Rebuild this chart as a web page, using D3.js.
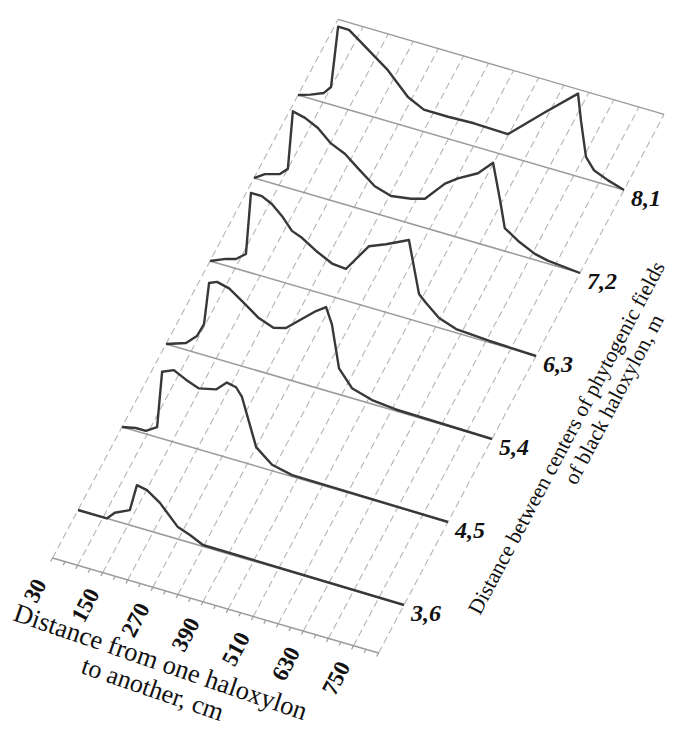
<!DOCTYPE html>
<html>
<head>
<meta charset="utf-8">
<script src="https://cdn.jsdelivr.net/npm/d3@7/dist/d3.min.js"></script>
<style>
  html, body { margin: 0; padding: 0; background: #fff; }
  svg { display: block; }
</style>
</head>
<body>
<div id="chart"></div>
<script>
// distance from one haloxylon to another, cm
const distTicks = [30, 150, 270, 390, 510, 630, 750];
const distGrid = [30, 90, 150, 210, 270, 330, 390, 450, 510, 570, 630, 690, 750, 810];

// distance between centers of phytogenic fields, m
const depths = [3.6, 4.5, 5.4, 6.3, 7.2, 8.1];
const depthLabels = ["3,6", "4,5", "5,4", "6,3", "7,2", "8,1"];

// [distance cm, value]
const s36 = [[30,0],[99,0],[118,8],[154,15],[171,42],[195,40],[226,31],[269,12],[298,7.6],[329,1.4],[810,0]];
const s45 = [[30,0],[63,3],[87,3],[114,10],[126,67],[154,72],[183,66],[214,61],[255,65],[281,75],[303,73],[317,65],[351,19],[389,6],[437,1.5],[810,0]];
const s54 = [[30,0],[78,6.8],[104,17],[121,31],[133,73.5],[152,77],[181,74],[212,65],[252,53],[288,47.5],[317,51],[355,64.6],[389,76.7],[413,83.6],[427,68],[444,26],[475,10],[523,4],[580,1.5],[810,0]];
const s63 = [[30,0],[68,6.7],[92,9.6],[116,17.5],[128,80],[154,80],[178,75],[202,66],[226,54],[250,50],[284,41],[322,33],[355,31.6],[410,61],[451,68],[506,79],[530,28],[547,21],[578,9.7],[619,3.7],[697,1.5],[810,0]];
const s72 = [[30,0],[56,7],[92,11.6],[111,19],[123,78],[152,75],[183,68.6],[214,57],[248,50.5],[279,40],[319,27],[358,22],[406,25],[439,29],[487,50],[518,59],[566,70],[602,85],[619,49],[630,23],[662,14],[702,6],[733,3],[810,0]];
const s81 = [[30,0],[60,4],[92,9.6],[109,17.6],[126,80],[152,80],[181,71],[245,51],[293,30],[331,22],[389,22],[451,23],[532,22],[619,54],[700,83],[707,57],[719,22],[738,11],[772,5],[810,0]];
const series = [s36, s45, s54, s63, s72, s81];

const width = 674, height = 729;
const serif = "Liberation Serif, Times New Roman, serif";

const svg = d3.select("#chart")
  .append("svg")
  .attr("width", width)
  .attr("height", height);

// oblique projection: x runs right-down, depth runs up-right, value straight up
const x = d3.scaleLinear().domain([30, 810]).range([0, 1]);
const y = d3.scaleLinear().domain([3.6, 8.1]).range([0, 1]);
const z = d3.scaleLinear().domain([0, 100]).range([0, 100]);
const origin = [78, 510], xVec = [326, 95], yVec = [220, -415];
const floorDepth = [3.08, 8.92];

function proj(c, d, v = 0) {
  const a = x(c), b = y(d);
  return [origin[0] + a * xVec[0] + b * yVec[0],
          origin[1] + a * xVec[1] + b * yVec[1] - z(v)];
}

const yLen = Math.hypot(yVec[0], yVec[1]);
const yUnit = [yVec[0] / yLen, yVec[1] / yLen];
const yAngle = Math.atan2(yVec[1], yVec[0]) * 180 / Math.PI;

// dashed floor grid
svg.append("g")
  .selectAll("line")
  .data(distGrid)
  .join("line")
  .attr("x1", d => proj(d, floorDepth[0])[0])
  .attr("y1", d => proj(d, floorDepth[0])[1])
  .attr("x2", d => proj(d, floorDepth[1])[0])
  .attr("y2", d => proj(d, floorDepth[1])[1])
  .attr("stroke", "#b4b4b4")
  .attr("stroke-width", 1.1)
  .attr("stroke-dasharray", "7,4");

// front and back edges
svg.append("g")
  .selectAll("line")
  .data(floorDepth)
  .join("line")
  .attr("x1", d => proj(30, d)[0])
  .attr("y1", d => proj(30, d)[1])
  .attr("x2", d => proj(810, d)[0])
  .attr("y2", d => proj(810, d)[1])
  .attr("stroke", "#9a9a9a")
  .attr("stroke-width", 1.4);

// small ticks on front edge
svg.append("g")
  .selectAll("line")
  .data(d3.range(30, 811, 30))
  .join("line")
  .attr("x1", d => proj(d, floorDepth[0])[0])
  .attr("y1", d => proj(d, floorDepth[0])[1])
  .attr("x2", d => proj(d, floorDepth[0])[0] - yUnit[0] * 4)
  .attr("y2", d => proj(d, floorDepth[0])[1] - yUnit[1] * 4)
  .attr("stroke", "#9a9a9a")
  .attr("stroke-width", 1.2);

// series baselines
svg.append("g")
  .selectAll("line")
  .data(depths)
  .join("line")
  .attr("x1", d => proj(30, d)[0])
  .attr("y1", d => proj(30, d)[1])
  .attr("x2", d => proj(810, d)[0])
  .attr("y2", d => proj(810, d)[1])
  .attr("stroke", "#9a9a9a")
  .attr("stroke-width", 1.5);

// curves
const line = d3.line();
svg.append("g")
  .selectAll("path")
  .data(series)
  .join("path")
  .attr("d", (s, i) => line(s.map(p => proj(p[0], depths[i], p[1]))))
  .attr("fill", "none")
  .attr("stroke", "#383838")
  .attr("stroke-width", 2.4)
  .attr("stroke-linejoin", "round");

// depth labels
svg.append("g")
  .selectAll("text")
  .data(depths)
  .join("text")
  .attr("x", d => proj(810, d)[0] + 7)
  .attr("y", d => proj(810, d)[1] + 16)
  .attr("font-family", serif)
  .attr("font-size", 24)
  .attr("font-weight", "bold")
  .attr("font-style", "italic")
  .attr("fill", "#111")
  .text((d, i) => depthLabels[i]);

// distance tick labels
svg.append("g")
  .selectAll("text")
  .data(distTicks)
  .join("text")
  .attr("transform", d => {
    const p = proj(d, floorDepth[0]);
    return `translate(${p[0] - yUnit[0] * 37},${p[1] - yUnit[1] * 37}) rotate(${yAngle})`;
  })
  .attr("text-anchor", "middle")
  .attr("dominant-baseline", "central")
  .attr("font-family", serif)
  .attr("font-size", 23)
  .attr("font-weight", "bold")
  .attr("fill", "#111")
  .text(d => d);

// x axis title
svg.append("text")
  .attr("transform", "translate(12,620) rotate(19)")
  .attr("font-family", serif)
  .attr("font-size", 26.5)
  .attr("fill", "#111")
  .text("Distance from one haloxylon");
svg.append("text")
  .attr("transform", "translate(150,697) rotate(19)")
  .attr("text-anchor", "middle")
  .attr("font-family", serif)
  .attr("font-size", 26)
  .attr("fill", "#111")
  .text("to another, cm");

// depth axis title
svg.append("text")
  .attr("transform", `translate(480,616) rotate(${yAngle})`)
  .attr("font-family", serif)
  .attr("font-size", 21.5)
  .attr("fill", "#111")
  .text("Distance between centers of phytogenic fields");
svg.append("text")
  .attr("transform", `translate(576,486) rotate(${yAngle})`)
  .attr("font-family", serif)
  .attr("font-size", 21.5)
  .attr("fill", "#111")
  .text("of black haloxylon, m");
</script>
</body>
</html>
